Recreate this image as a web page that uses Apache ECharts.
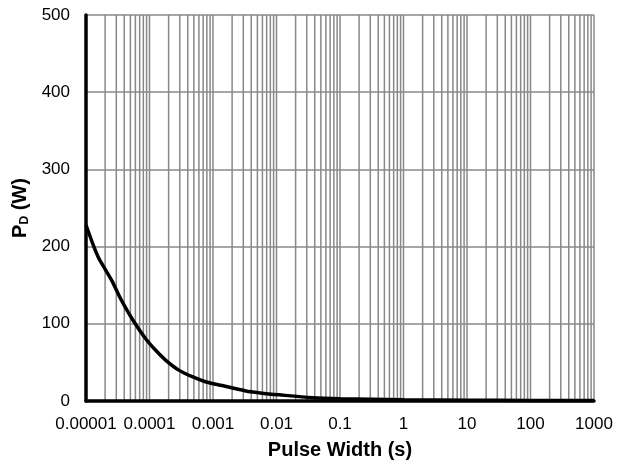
<!DOCTYPE html>
<html><head><meta charset="utf-8">
<script src="https://cdn.jsdelivr.net/npm/echarts@6/dist/echarts.min.js"></script>
<style>html,body{margin:0;padding:0;background:#fff}#c{width:622px;height:470px}</style>
</head><body><div id="c"></div>
<script>
const pulseWidth = [1e-5, 1.33e-5, 1.59e-5, 2.03e-5, 2.59e-5, 3.29e-5, 4.19e-5, 5.66e-5, 8.65e-5, 1.24e-4, 1.79e-4, 2.89e-4, 4.7e-4, 7.61e-4, 1.4e-3, 3.3e-3, 5.5e-3, 1.1e-2, 3.7e-2, 0.1, 1, 10, 100, 1000];
const powerW    = [228, 200, 185, 170, 155, 137, 121, 103, 81, 66, 53, 40, 31.5, 25, 20, 13, 10.5, 8, 4.3, 3, 1.5, 1, 0.8, 0.7];
const xTickLabels = ['0.00001', '0.0001', '0.001', '0.01', '0.1', '1', '10', '100', '1000'];
const decades = [-5, -4, -3, -2, -1, 0, 1, 2];
const minorSteps = [1, 2, 3, 4, 5, 6, 7, 8, 9];
const font = 'Liberation Sans, Arial, sans-serif';

const gridValues = [];
decades.forEach(d => minorSteps.forEach(k => { if (!(d === -5 && k === 1)) gridValues.push(k * Math.pow(10, d)); }));
gridValues.push(1000);

const chart = echarts.init(document.getElementById('c'));
chart.setOption({
  animation: false,
  grid: { left: 86, right: 28, top: 15, bottom: 69, containLabel: false },
  xAxis: {
    type: 'log', logBase: 10, min: 1e-5, max: 1000, z: 4,
    name: 'Pulse Width (s)', nameLocation: 'middle', nameGap: 39,
    nameTextStyle: { fontFamily: font, fontWeight: 'bold', fontSize: 20, color: '#000', verticalAlign: 'top' },
    axisLine: { show: true, onZero: false, lineStyle: { color: '#000', width: 3.5 } },
    axisTick: { show: false },
    splitLine: { show: false },
    axisLabel: {
      interval: 0, hideOverlap: false, margin: 15, fontFamily: font, fontSize: 17, color: '#000',
      formatter: v => xTickLabels[Math.round(Math.log10(v)) + 5] || ''
    }
  },
  yAxis: {
    type: 'value', min: 0, max: 500, interval: 100, z: 3,
    name: '{a|P}{s|D}{a| (W)}', nameLocation: 'middle', nameGap: 53, nameRotate: 90,
    nameTextStyle: {
      color: '#000',
      rich: {
        a: { fontFamily: font, fontWeight: 'bold', fontSize: 20, color: '#000' },
        s: { fontFamily: font, fontWeight: 'bold', fontSize: 12, color: '#000', verticalAlign: 'bottom', padding: [8, 0, 0, 0] }
      }
    },
    axisLine: { show: true, lineStyle: { color: '#000', width: 3.5 } },
    axisTick: { show: false },
    splitLine: { show: true, lineStyle: { color: '#888', width: 1.5 } },
    axisLabel: { margin: 16, fontFamily: font, fontSize: 17, color: '#000' }
  },
  series: [
    {
      type: 'custom', silent: true, z: 1,
      data: gridValues.map(v => [v, 0]),
      encode: { x: 0, y: 1 },
      renderItem: (params, api) => {
        const v = api.value(0);
        const p0 = api.coord([v, 0]);
        const p1 = api.coord([v, 500]);
        return { type: 'line', shape: { x1: p0[0], y1: p0[1], x2: p1[0], y2: p1[1] },
                 style: { stroke: '#888', lineWidth: 1.5 } };
      }
    },
    {
      type: 'line', z: 5, smooth: 0.3, showSymbol: false, symbol: 'none',
      data: pulseWidth.map((x, i) => [x, powerW[i]]),
      lineStyle: { color: '#000', width: 3.5 }
    }
  ]
});
</script></body></html>
